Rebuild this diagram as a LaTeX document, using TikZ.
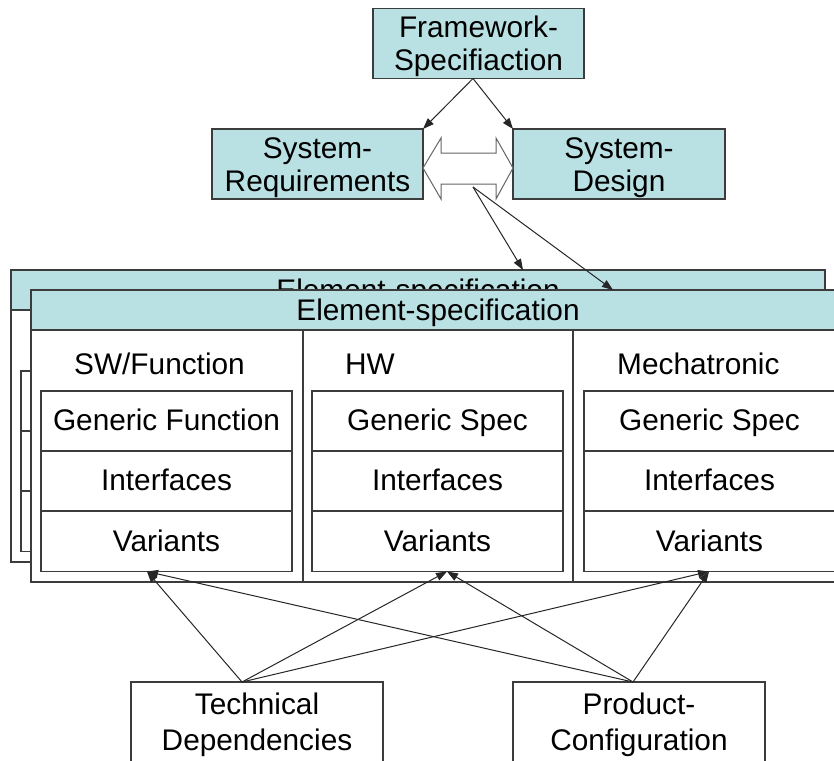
\documentclass[tikz,border=0pt]{standalone}
\usepackage{fontspec}
\setmainfont{Liberation Sans}
\usetikzlibrary{arrows.meta,calc}
\definecolor{specteal}{HTML}{B9E0E2}
\definecolor{frameline}{HTML}{3C3C3C}
\definecolor{dblline}{HTML}{646464}
% last line of a two-line label: keep its height, force its depth
\newcommand\lastrow[2][0pt]{\raisebox{0pt}[\height][#1]{#2}}
\begin{document}
\begin{tikzpicture}[x=1pt,y=-1pt,
  txt/.style={font=\fontsize{29.8}{33.3}\selectfont},
  edged/.style={draw=frameline,line width=1.2pt,inner sep=0pt,outer sep=0pt},
  tealbox/.style={edged,fill=specteal,txt,align=center,minimum width=211pt,minimum height=70pt},
  cellbox/.style={edged,fill=white,txt,minimum width=251pt,minimum height=60pt,text height=21.5pt,text depth=2pt},
  hdr/.style={edged,fill=specteal,txt,minimum width=814pt,minimum height=40pt,text height=21.5pt,text depth=0pt},
  panelbox/.style={edged,fill=white,minimum width=814pt,minimum height=292pt},
  srcbox/.style={edged,fill=white,font=\fontsize{29.8}{36}\selectfont,align=center,minimum width=252pt,minimum height=100pt},
  rule/.style={draw=frameline,line width=1.2pt},
  dblarrow/.style={draw=dblline,fill=white,line width=1pt,line join=miter},
  arr/.style={draw=black!85,line width=1pt,-{Triangle[length=11pt,width=8pt]}}
]
\useasboundingbox (0,0) rectangle (834,760);
\clip (0,0) rectangle (834,760);

% top level
\node[tealbox] (fw) at (478.5,43.5) {\rule{0pt}{21.5pt}Framework-\\\lastrow{Specifiaction}};
\node[tealbox] (sr) at (317.5,164) {\rule{0pt}{21.5pt}System-\\\lastrow{Requirements}};
\node[tealbox,minimum width=212pt] (sd) at (619,164) {\rule{0pt}{21.5pt}System-\\\lastrow{Design}};

% hollow two-way arrow between requirements and design
\draw[dblarrow] (423,168) -- (441,138) -- (441,153) -- (496,153) -- (496,138)
  -- (513,168) -- (496,199) -- (496,184) -- (441,184) -- (441,199) -- cycle;
\coordinate (relay) at (473,187);

% element specification, rear sheet
\node[panelbox] (backpanel) at (418,416) {};
\node[hdr] (backhead) at (418,290) {Element-specification};
\draw[rule] (283,310) -- (283,562);
\draw[rule] (553,310) -- (553,562);
\foreach \cx/\i in {146.5/1,417.5/2,689.5/3}
  \foreach \cy/\j in {401/1,461/2,521.5/3}
    \node[cellbox] (bk\i\j) at (\cx,\cy) {};

% element specification, front sheet
\node[panelbox] (frontpanel) at (438,436) {};
\node[hdr] (fronthead) at (438,310) {Element-specification};
\draw[rule] (303,330) -- (303,582);
\draw[rule] (573,330) -- (573,582);

\node[txt,anchor=base west,inner sep=0pt] (swt) at (74,374) {SW/Function};
\node[txt,anchor=base west,inner sep=0pt] (hwt) at (345,374) {HW};
\node[txt,anchor=base west,inner sep=0pt] (mct) at (617,374) {Mechatronic};

\node[cellbox] (swgen) at (166.5,421) {Generic Function};
\node[cellbox] (swint) at (166.5,481) {Interfaces};
\node[cellbox] (swvar) at (166.5,541.5) {Variants};
\node[cellbox] (hwgen) at (437.5,421) {Generic Spec};
\node[cellbox] (hwint) at (437.5,481) {Interfaces};
\node[cellbox] (hwvar) at (437.5,541.5) {Variants};
\node[cellbox] (mcgen) at (709.5,421) {Generic Spec};
\node[cellbox] (mcint) at (709.5,481) {Interfaces};
\node[cellbox] (mcvar) at (709.5,541.5) {Variants};

% inputs
\node[srcbox] (tech) at (257,732) {\rule{0pt}{21.5pt}Technical\\\lastrow[21.5pt]{Dependencies}};
\node[srcbox] (prod) at (639,732) {\rule{0pt}{21.5pt}Product-\\\lastrow[21.5pt]{Configuration}};

% connectors
\coordinate (fwout) at ($(fw.south)+(-5.5,0)$);
\draw[arr] (fwout) -- (sr.north east);
\draw[arr] (fwout) -- (sd.north west);
\draw[arr] (relay) -- ($(backpanel.north west)+(512,0)$);
\draw[arr] (relay) -- ($(frontpanel.north west)+(582,0)$);

\coordinate (techtop) at ($(tech.north)+(-15,0)$);
\coordinate (prodtop) at ($(prod.north)+(-6,0)$);
\coordinate (swtip) at ($(swvar.south)+(-19.5,0)$);
\coordinate (hwtip) at ($(hwvar.south)+(9.5,0)$);
\coordinate (mctip) at ($(mcvar.south)+(-0.5,0)$);
\foreach \t in {swtip,hwtip,mctip}{
  \draw[arr] (techtop) -- (\t);
  \draw[arr] (prodtop) -- (\t);
}
\end{tikzpicture}
\end{document}
